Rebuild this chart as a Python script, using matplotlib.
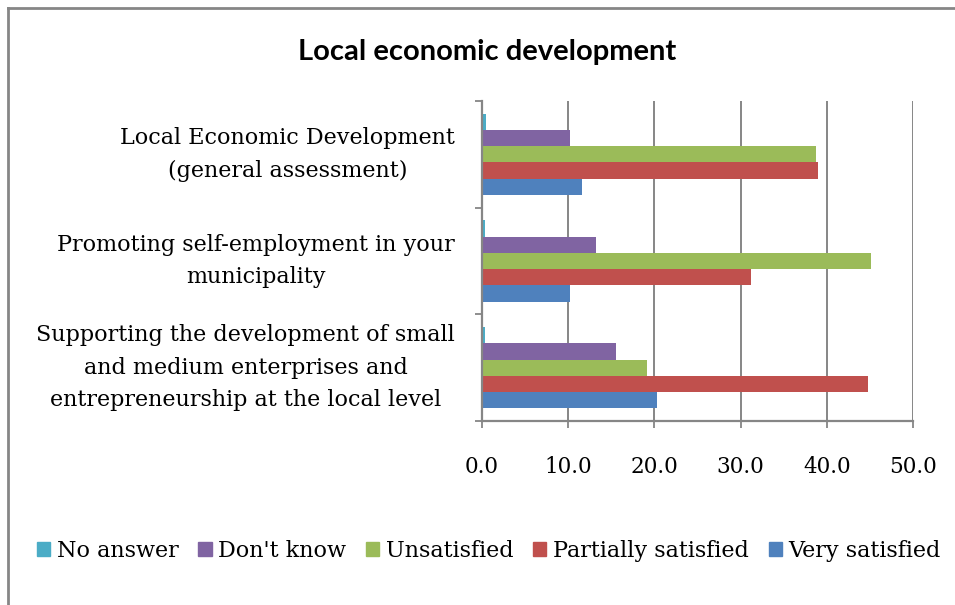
import numpy as np
import matplotlib
matplotlib.use('Agg')
import matplotlib.pyplot as plt
from matplotlib.patches import Patch
from matplotlib.lines import Line2D

# categories listed bottom → top, as on the axis
categories = [
    'Supporting the development of small\nand medium enterprises and\nentrepreneurship at the local level',
    'Promoting self-employment in your\nmunicipality',
    'Local Economic Development\n(general assessment)',
]
very_satisfied = [20.3, 10.2, 11.6]
partially_satisfied = [44.8, 31.2, 39.0]
unsatisfied = [19.1, 45.1, 38.8]
dont_know = [15.5, 13.2, 10.2]
no_answer = [0.3, 0.3, 0.5]

series = [
    ('Very satisfied', very_satisfied, '#4F81BD'),
    ('Partially satisfied', partially_satisfied, '#C0504D'),
    ('Unsatisfied', unsatisfied, '#9BBB59'),
    ("Don't know", dont_know, '#8064A2'),
    ('No answer', no_answer, '#4BACC6'),
]
x_ticks = [0, 10, 20, 30, 40, 50]

SERIF = 'DejaVu Serif'
GRAY = '#868686'

fig = plt.figure(figsize=(9.55, 6.05), dpi=100)
ax = fig.add_axes([482 / 955, 1 - 421 / 605, 431 / 955, 320 / 605])

# chart frame: only the left and top edges fall inside the image
fx, fy = 7.5 / 955, 1 - 8 / 605
fig.add_artist(Line2D([fx, fx], [0, fy], transform=fig.transFigure,
                      color=GRAY, lw=2.0))
fig.add_artist(Line2D([fx, 1], [fy, fy], transform=fig.transFigure,
                      color=GRAY, lw=2.0))

bar_h = 0.152
y = np.arange(len(categories))
for k, (name, vals, color) in enumerate(series):
    ax.barh(y + (k - 2) * bar_h, vals, height=bar_h, color=color,
            label=name, zorder=2)

ax.set_xlim(0, 50)
ax.set_ylim(-0.5, len(categories) - 0.5)
ax.set_xticks(x_ticks)
ax.set_xticklabels([f'{v:.1f}' for v in x_ticks], fontsize=15.5, family=SERIF)
ax.xaxis.grid(True, color=GRAY, lw=1.4, zorder=0)
ax.set_axisbelow(True)

ax.set_yticks(y)
ax.set_yticklabels(categories, fontsize=16, family=SERIF, linespacing=1.62,
                   va='center')
for lbl in ax.get_yticklabels():
    lbl.set_multialignment('center')
ax.set_yticks(np.arange(-0.5, len(categories)), minor=True)
ax.tick_params(axis='y', which='major', length=0, pad=19.5)
ax.tick_params(axis='y', which='minor', length=5, width=1.3, color=GRAY)
ax.tick_params(axis='x', length=5, width=1.3, color=GRAY, pad=20)

for side in ('top', 'right'):
    ax.spines[side].set_visible(False)
for side in ('left', 'bottom'):
    ax.spines[side].set_color(GRAY)
    ax.spines[side].set_linewidth(1.6)

fig.text(487 / 955, 1 - 52 / 605, 'Local economic development',
         ha='center', va='center', fontsize=21, fontweight='bold',
         family='Lato')

handles = [Patch(color=c) for _, _, c in series[::-1]]
labels = [n for n, _, _ in series[::-1]]
fig.legend(handles, labels, loc='center', bbox_to_anchor=(489 / 955, 1 - 551 / 605),
           ncol=5, frameon=False, handlelength=0.6, handleheight=0.6,
           handletextpad=0.3, columnspacing=0.88,
           prop={'family': SERIF, 'size': 16})

fig.savefig('out.png', dpi=100)
